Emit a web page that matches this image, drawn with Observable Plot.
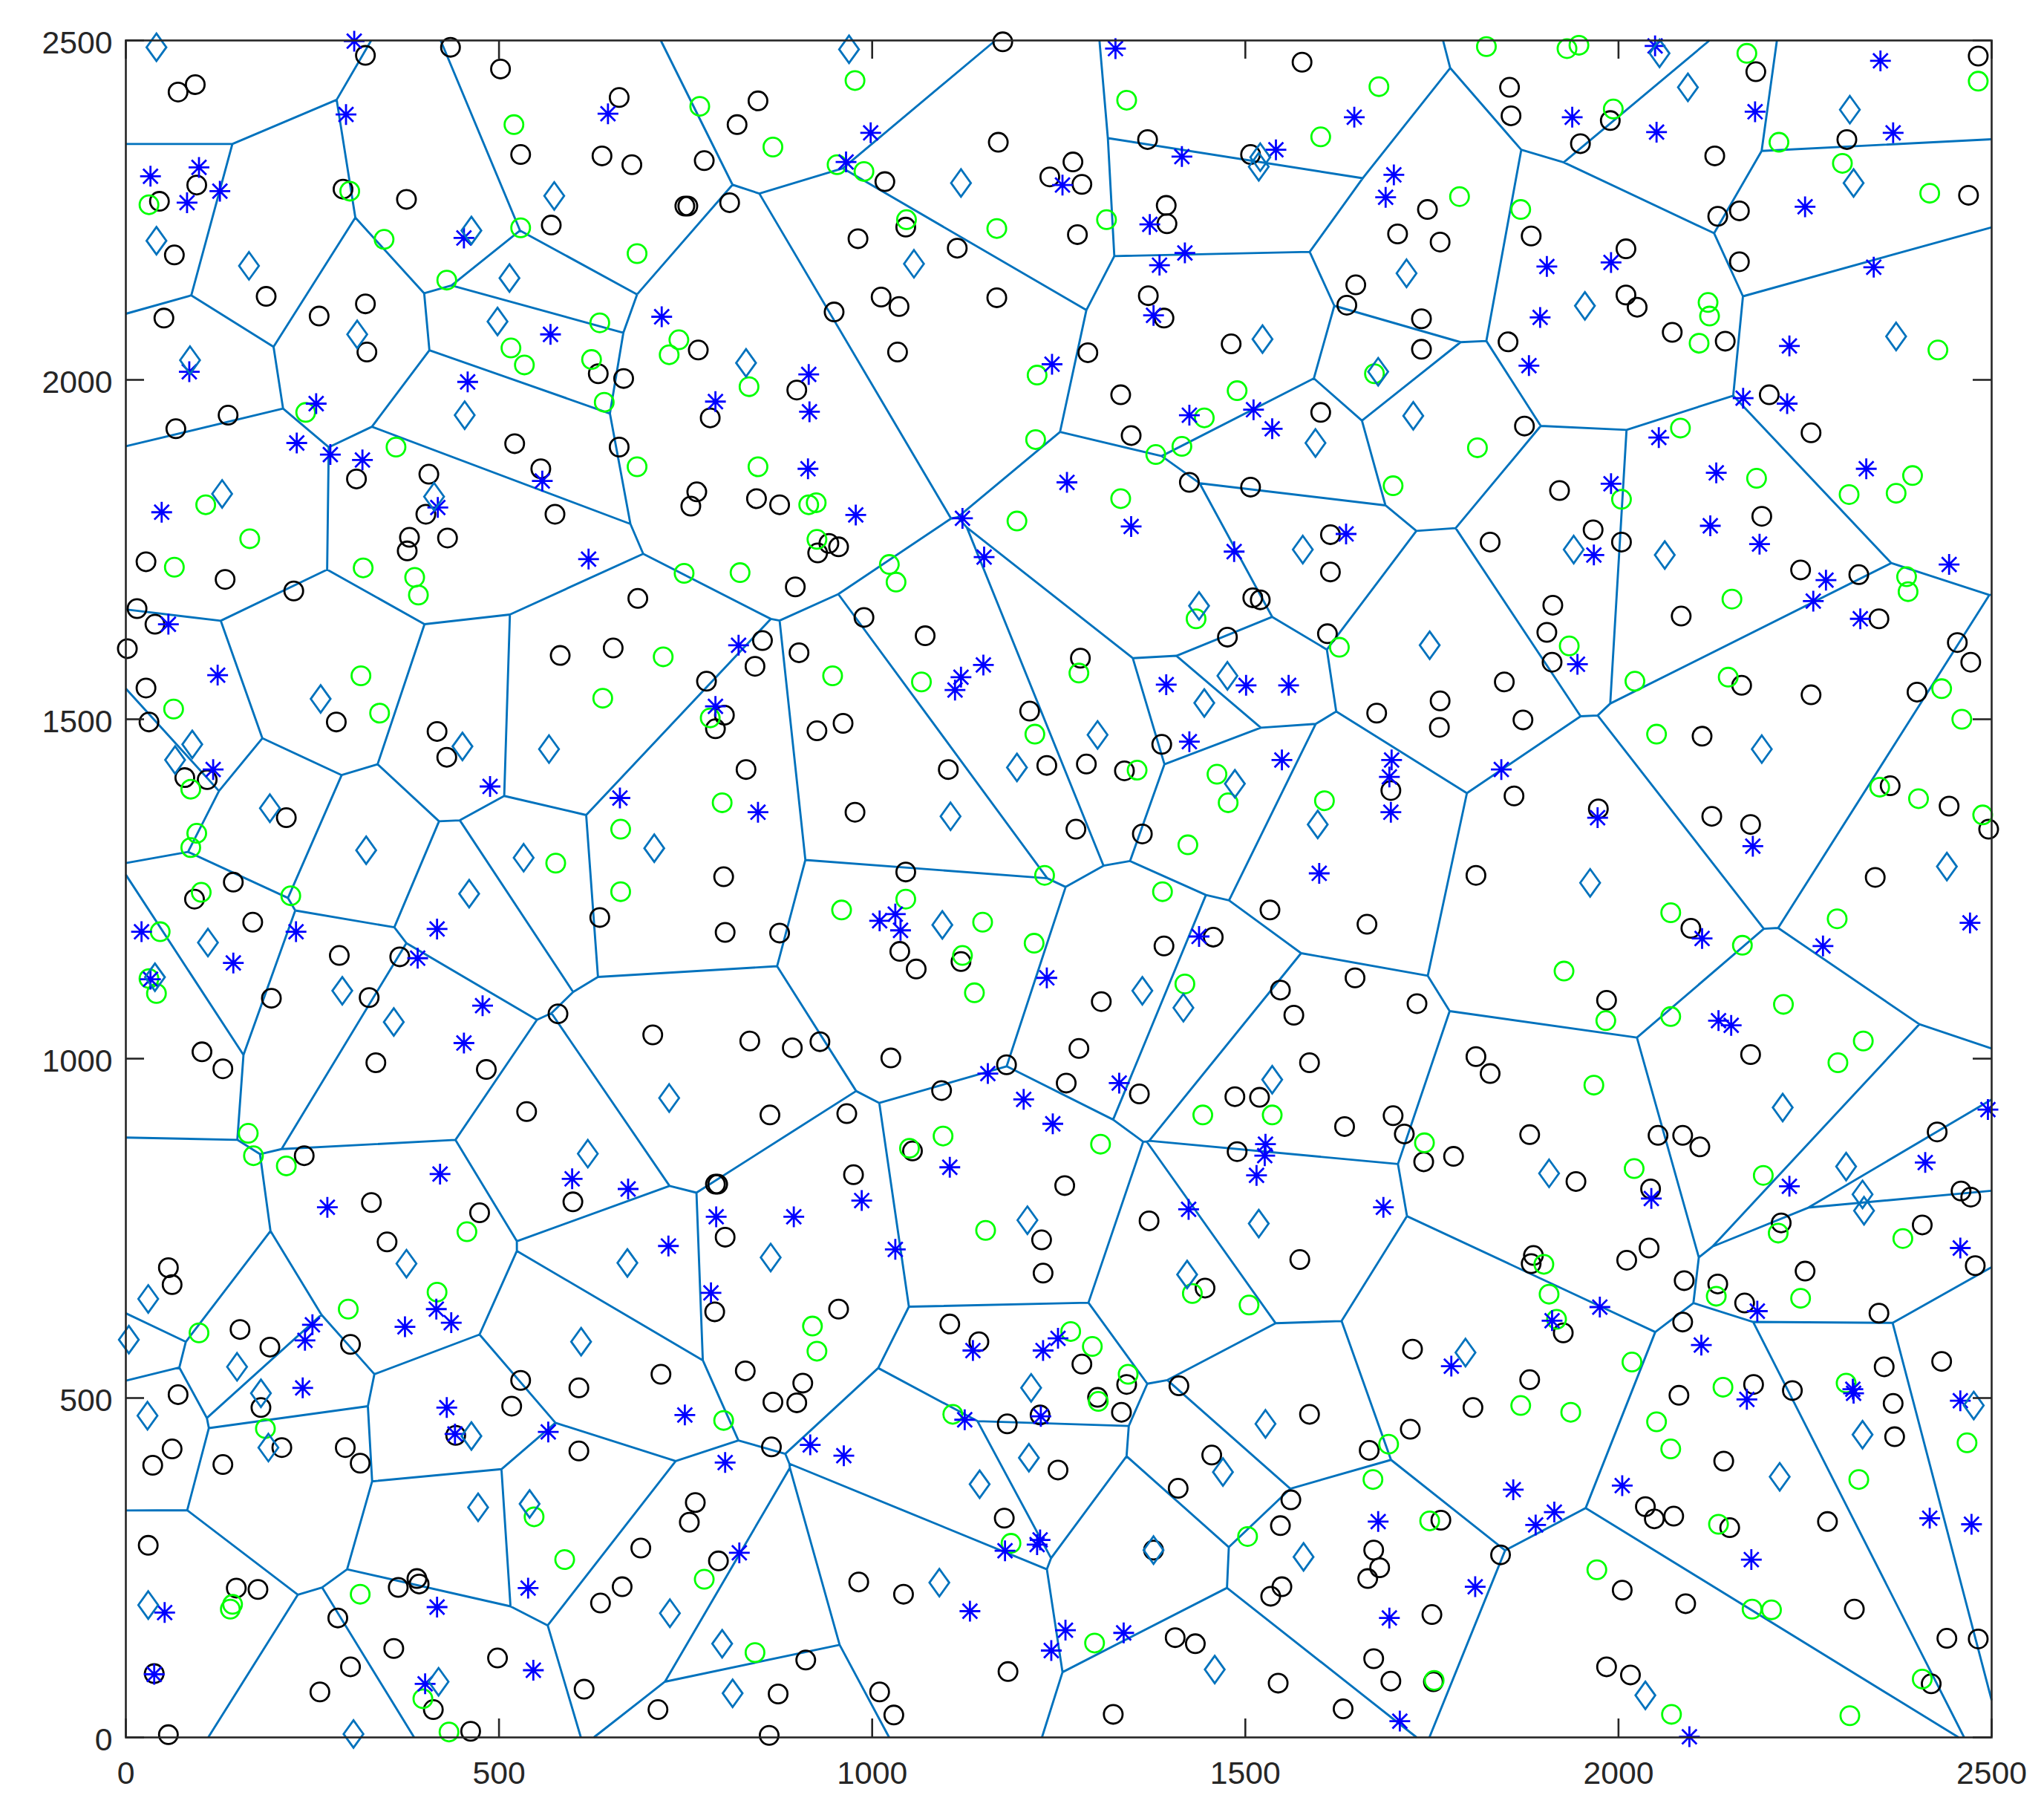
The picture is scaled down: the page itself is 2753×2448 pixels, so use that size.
<!DOCTYPE html>
<html><head><meta charset="utf-8">
<style>html,body{margin:0;padding:0;background:#fff}svg{display:block}</style>
<script src="https://cdn.jsdelivr.net/npm/d3@7"></script>
<script src="https://cdn.jsdelivr.net/npm/@observablehq/plot@0.6"></script>
</head><body><script>
const tickValues=[0,500,1000,1500,2000,2500];
const blackPoints=[[435,2490],[321,2478],[502,2458],[93,2435],[70,2424],[661,2416],[638,2330],[529,2332],[678,2317],[95,2287],[291,2281],[45,2263],[376,2266],[570,2228],[65,2184],[188,2123],[321,2112],[259,2094],[51,2091],[323,2041],[633,2009],[667,2002],[137,1948],[67,1928],[521,1906],[661,1901],[556,1869],[406,1861],[309,1854],[575,1802],[402,1802],[431,1767],[380,1768],[377,1748],[27,1732],[133,1706],[225,1689],[686,1678],
[1175,2498],[1576,2468],[847,2411],[819,2376],[1169,2350],[1369,2354],[1507,2332],[775,2323],[1269,2321],[1238,2299],[1281,2288],[1017,2292],[749,2256],[753,2256],[809,2261],[1394,2257],[1395,2230],[1045,2225],[981,2208],[1275,2214],[1114,2194],[1370,2124],[1391,2091],[1012,2122],[1036,2108],[1167,2121],[949,2100],[1034,2041],[1289,2040],[1481,2053],[767,2044],[899,1985],[1333,1978],[1601,1952],[783,1944],[1347,1918],[1425,1849],[1507,1842],[765,1835],[757,1814],[845,1825],[876,1816],[1614,1772],[942,1759],[955,1754],[927,1745],[1614,1717],[897,1695],[1510,1679],[1520,1676],
[2482,2477],[2184,2454],[1854,2431],[1856,2389],[1989,2382],[1949,2348],[2306,2354],[2129,2330],[1744,2251],[1704,2215],[1761,2203],[2133,2241],[2162,2249],[2469,2272],[1883,2212],[2010,2193],[2162,2174],[1648,2140],[1636,2110],[2010,2125],[2025,2107],[1736,2090],[2072,2070],[2143,2057],[1852,2056],[1736,2045],[2202,1978],[1874,1932],[2258,1922],[1921,1837],[1828,1761],[1966,1779],[2004,1761],[2192,1799],[2244,1720],[2322,1713],
[15,1663],[39,1640],[2,1604],[582,1594],[653,1605],[27,1546],[31,1496],[282,1496],[417,1482],[430,1444],[79,1414],[109,1411],[215,1355],[144,1260],[92,1235],[170,1201],[286,1152],[367,1150],[195,1089],[326,1090],[579,1066],[706,1035],[102,1010],[130,985],[335,994],[483,984],[537,922],[239,857],[635,1208],
[853,1616],[843,1578],[902,1598],[989,1650],[1071,1623],[778,1556],[802,1506],[790,1486],[1279,1590],[1211,1512],[926,1483],[961,1494],[831,1426],[1102,1426],[1234,1432],[1287,1434],[1338,1424],[1388,1463],[977,1363],[1273,1338],[1362,1331],[801,1268],[1045,1275],[803,1186],[876,1185],[1037,1158],[1059,1132],[1119,1143],[1533,1219],[1391,1166],[1457,1179],[1307,1084],[1547,1101],[1565,1064],[836,1026],[893,1016],[930,1025],[1025,1001],[1277,1015],[1180,991],[1586,994],[1358,948],[1260,964],[1486,944],[1519,943],[1093,953],[966,919],[863,917],[1489,863],[1054,864],[975,829],[793,815],[790,815],[1258,813],[1476,1621],[1610,1626],
[1912,1668],[2084,1652],[2349,1648],[1904,1628],[2454,1613],[2472,1584],[1911,1584],[2165,1550],[2258,1536],[2400,1540],[1847,1555],[1761,1527],[1872,1499],[1760,1488],[1676,1509],[2112,1475],[1695,1395],[1860,1387],[1973,1368],[2364,1402],[2443,1372],[2496,1338],[2125,1357],[2177,1345],[2344,1267],[1809,1270],[2097,1192],[1663,1198],[1647,1119],[1730,1081],[1984,1086],[2177,1006],[1809,1003],[1828,978],[1633,900],[1698,916],[1713,889],[1881,888],[2053,887],[2086,887],[2109,870],[1739,848],[1779,856],[1943,819],[2043,808],[2427,892],[2459,805],[2472,796],
[329,788],[474,773],[599,789],[350,730],[57,692],[62,667],[153,601],[193,575],[301,579],[717,535],[529,526],[607,515],[70,505],[517,488],[181,486],[442,445],[209,427],[294,427],[314,404],[607,422],[62,425],[36,401],[130,402],[30,283],[690,279],[665,222],[390,234],[393,226],[365,221],[148,220],[177,218],[636,198],[284,176],[359,131],[301,104],[498,117],[260,67],[614,71],[713,41],[412,41],[38,94],[57,4],[462,9],
[803,737],[955,631],[1104,609],[1143,583],[830,540],[907,522],[899,493],[867,494],[865,428],[789,627],[1281,550],[1341,520],[1302,501],[1334,479],[1225,475],[1181,462],[1249,394],[1177,323],[1411,518],[1586,476],[1455,416],[1410,367],[1561,350],[1547,312],[1377,276],[763,346],[755,317],[794,260],[982,229],[1042,211],[1406,147],[1433,138],[1549,222],[1534,208],[911,114],[1182,97],[1544,80],[874,64],[1010,67],[1029,33],[862,3],[1323,34],[1371,761],[1227,733],[1229,684],[1573,704],[1446,662],
[2407,755],[2218,758],[2041,721],[2011,703],[1886,710],[1883,698],[2088,673],[2133,668],[2169,640],[2250,687],[2478,695],[2349,625],[1926,596],[2086,612],[1724,572],[2433,554],[2356,546],[1881,527],[2181,520],[2081,504],[2233,511],[1805,486],[2368,492],[1721,454],[1666,423],[2370,443],[2141,407],[2036,340],[2048,322],[2074,326],[1762,320],[2149,309],[2280,318],[1842,269],[1672,276],[1680,250],[1664,234],[2005,217],[2090,197],[1750,181],[2316,189],[2440,146],[2482,145],[1672,116],[1695,83],[1752,82],[1984,104],[2016,92],[2419,79],[1631,42]];
const greenPoints=[[520,2376],[300,2278],[31,2258],[346,2207],[529,2224],[685,2186],[430,2147],[635,2084],[516,2047],[534,2022],[624,2030],[641,1967],[241,1952],[362,1901],[685,1872],[107,1816],[166,1766],[65,1724],[318,1723],[387,1709],[392,1683],
[977,2441],[1341,2412],[769,2403],[867,2343],[1601,2358],[953,2317],[989,2307],[1046,2236],[1314,2236],[1167,2223],[741,2059],[728,2037],[1221,2007],[835,1990],[1489,1984],[1445,1944],[1219,1912],[1415,1902],[1380,1890],[847,1872],[1333,1825],[915,1816],[925,1819],[1194,1792],[926,1765],[1023,1728],[748,1715],[823,1716],[1032,1702],
[1823,2491],[1931,2488],[1947,2493],[2172,2481],[1679,2432],[1993,2399],[2482,2440],[2215,2350],[2300,2319],[1787,2270],[1869,2251],[2417,2275],[2120,2114],[2122,2094],[2108,2054],[1673,2009],[2428,2044],[2083,1929],[1811,1900],[1698,1844],[2185,1855],[2004,1824],[2309,1831],[2372,1833],[2394,1859],[2386,1710],[2388,1688],[2152,1677],
[315,1564],[64,1515],[340,1509],[639,1531],[720,1592],[87,1397],[95,1332],[87,1311],[663,1338],[576,1288],[101,1245],[221,1240],[663,1246],[46,1187],[31,1118],[41,1096],[164,890],[171,857],[215,842],
[947,1564],[1066,1555],[1277,1568],[1218,1478],[783,1502],[1355,1425],[1462,1419],[1477,1377],[1423,1315],[799,1377],[1231,1270],[1389,1246],[1606,1380],[1045,1235],[959,1219],[1148,1201],[1121,1152],[1217,1170],[1137,1097],[1419,1110],[1443,917],[1536,917],[1306,874],[1095,886],[1050,868],[1434,1648],
[1934,1608],[1626,1606],[2147,1562],[2022,1556],[2433,1545],[2460,1500],[2051,1478],[2350,1400],[2402,1383],[2488,1359],[2070,1215],[2293,1206],[2166,1167],[1927,1129],[2221,1080],[2070,1062],[1983,1056],[2328,1026],[2294,994],[1967,961],[1740,876],[2021,838],[2194,828],
[457,745],[417,656],[298,631],[98,596],[187,455],[547,325],[588,262],[314,211],[143,196],[140,189],[398,57],[433,8],
[1152,747],[920,606],[926,569],[1505,637],[1429,654],[1266,598],[1295,576],[1343,535],[1303,495],[1108,476],[801,467],[1186,286],[1503,296],[775,233],[1298,139],[843,125],
[2214,743],[2381,735],[2131,650],[2244,647],[1900,697],[1907,653],[1917,616],[2018,553],[2140,516],[2305,522],[1869,489],[1936,479],[2051,465],[2070,425],[2467,434],[1692,432],[1671,380],[2322,380],[1747,319],[2134,314],[1971,247],[2179,189],[2205,188],[1753,84],[2407,86],[2071,34],[2310,32]];
const starPoints=[[306,2499],[295,2391],[646,2392],[98,2313],[33,2300],[126,2278],[82,2261],[453,2209],[718,2093],[569,2067],[85,2012],[458,1997],[255,1965],[229,1907],[274,1890],[317,1882],[558,1851],[418,1812],[48,1805],[620,1736],
[1326,2488],[998,2364],[965,2321],[1415,2329],[1541,2339],[1255,2287],[1372,2229],[1419,2187],[1385,2169],[1377,2095],[1241,2023],[915,2008],[790,1968],[916,1953],[1425,1948],[1511,1956],[1536,1928],[914,1869],[1261,1849],[1121,1796],[1347,1784],[978,1801],[1150,1739],[1485,1747],
[2049,2492],[2351,2470],[1646,2387],[1938,2387],[2183,2395],[2051,2365],[2368,2364],[1699,2302],[1688,2269],[2250,2255],[1904,2167],[1990,2173],[2342,2166],[1895,2092],[1880,2021],[2229,2050],[2167,1973],[2226,1965],[2054,1915],[1990,1847],[2131,1863],[2332,1869],[2123,1785],[1967,1742],[2189,1758],[2278,1705],[2443,1728],[1635,1773],[2261,1674],
[57,1640],[123,1565],[117,1426],[488,1401],[662,1384],[21,1187],[228,1187],[144,1141],[417,1191],[391,1148],[33,1117],[478,1078],[453,1023],[421,830],[598,823],[673,808],
[821,1609],[1149,1580],[1119,1562],[1111,1543],[790,1519],[1394,1551],[1501,1550],[1558,1550],[1425,1467],[1549,1440],[847,1363],[1599,1273],[1031,1213],[1010,1203],[1038,1189],[1438,1180],[1234,1119],[1155,978],[1331,964],[1203,940],[1242,904],[1527,874],[1526,857],[1515,828],[1104,840],
[1945,1581],[1696,1440],[1693,1415],[1695,1363],[1843,1426],[1972,1355],[2180,1313],[2471,1200],[2112,1177],[2274,1166],[2134,1056],[2151,1049],[2495,925],[2411,847],[2229,812],[2324,1648],
[270,781],[416,631],[436,611],[374,605],[250,608],[240,585],[237,515],[430,486],[441,447],[566,450],[539,220],[417,192],[52,184],[401,79],[38,93],[546,99],[727,724],
[791,767],[895,767],[986,791],[1031,719],[1424,778],[784,655],[1249,588],[1229,570],[1135,570],[1226,473],[1124,468],[749,475],[917,431],[962,415],[803,405],[822,272],[1178,275],[1221,284],[1225,291],[1131,186],[1259,158],[1337,154],[1240,128],
[1685,781],[2044,794],[2458,721],[2186,628],[1911,614],[1975,634],[2111,578],[1776,547],[2172,498],[2314,513],[2315,507],[2458,496],[2005,371],[1859,365],[1678,318],[1914,332],[1889,313],[1808,222],[2178,262],[1693,176],[2417,323],[2473,314],[1707,24],[2095,1]];
const diamondPoints=[[41,2490],[574,2271],[463,2220],[41,2205],[165,2168],[514,2150],[498,2086],[310,2067],[86,2029],[454,1948],[129,1832],[413,1828],
[969,2487],[1119,2290],[1520,2328],[1518,2314],[1056,2171],[1523,2060],[831,2025],[1594,1907],[1577,1750],
[2055,2481],[2093,2431],[2310,2398],[2315,2290],[1716,2157],[1955,2109],[2372,2064],[1678,2012],[1725,1947],[1940,1750],[2062,1742],
[261,1530],[89,1463],[66,1440],[451,1460],[567,1456],[193,1369],[322,1307],[533,1296],[708,1310],[460,1243],[110,1171],[39,1120],[290,1100],[359,1054],[619,860],[728,942],
[1438,1667],[1476,1564],[1445,1524],[1302,1477],[1194,1429],[1486,1405],[1105,1357],[1597,1345],[1094,1197],[1362,1100],[1417,1075],[1536,969],
[1747,1609],[2192,1456],[1962,1259],[2440,1283],[2220,928],[1907,831],[2305,841],[2327,800],[2329,776],
[376,698],[672,699],[30,646],[4,586],[610,583],[149,546],[181,507],[29,474],[463,444],[191,427],[472,339],[541,344],[30,195],[729,183],[419,82],[305,5],
[1208,762],[1518,757],[864,707],[1422,682],[1213,515],[1210,412],[1527,462],[1144,373],[1470,391],[1377,276],[1578,266],[1090,228],[799,138],[1459,100],[813,65],
[1795,567],[2476,489],[2327,446],[2216,384],[2036,62]];

const starSymbol={draw(c,size){const k=Math.sqrt(size/Math.PI);const d=k*Math.SQRT1_2;
 c.moveTo(-k,0);c.lineTo(k,0);c.moveTo(0,-k);c.lineTo(0,k);c.moveTo(-d,-d);c.lineTo(d,d);c.moveTo(-d,d);c.lineTo(d,-d);}};
const diamondSymbol={draw(c,size){const k=Math.sqrt(size/Math.PI);const w=k*0.72;
 c.moveTo(0,-k);c.lineTo(w,0);c.lineTo(0,k);c.lineTo(-w,0);c.closePath();}};

const ink="#262626", edge="#0072BD";
const W=2753,H=2448,mL=169,mR=71,mT=54,mB=109,tickLen=25,plotW=W-mL-mR,plotH=H-mT-mB;
const X=d=>d[0],Y=d=>d[1];
const chart=Plot.plot({
 width:W,height:H,marginLeft:mL,marginRight:mR,marginTop:mT,marginBottom:mB,
 style:{background:"#fff",fontFamily:"'Liberation Sans',sans-serif"},
 x:{domain:[0,2500]},y:{domain:[0,2500]},
 marks:[
  Plot.voronoiMesh(diamondPoints,{x:X,y:Y,stroke:edge,strokeWidth:2.9,strokeOpacity:1}),
  Plot.dot(blackPoints,{x:X,y:Y,r:12.6,stroke:"#000",strokeWidth:2.8,fill:"none"}),
  Plot.dot(greenPoints,{x:X,y:Y,r:12.6,stroke:"#00FF00",strokeWidth:2.8,fill:"none"}),
  Plot.dot(starPoints,{x:X,y:Y,r:14,symbol:starSymbol,stroke:"#0000FF",strokeWidth:2.8,fill:"none"}),
  Plot.dot(diamondPoints,{x:X,y:Y,r:18.5,symbol:diamondSymbol,stroke:edge,strokeWidth:2.8,fill:"none"}),
  Plot.tickX(tickValues,{x:d=>d,stroke:ink,strokeWidth:2.6,insetTop:plotH-tickLen}),
  Plot.tickX(tickValues,{x:d=>d,stroke:ink,strokeWidth:2.6,insetBottom:plotH-tickLen}),
  Plot.tickY(tickValues,{y:d=>d,stroke:ink,strokeWidth:2.6,insetRight:plotW-tickLen}),
  Plot.tickY(tickValues,{y:d=>d,stroke:ink,strokeWidth:2.6,insetLeft:plotW-tickLen}),
  Plot.frame({stroke:ink,strokeWidth:2.6}),
  Plot.axisX(tickValues,{tickSize:0,tickPadding:32,fontSize:42.7,color:ink,label:null,tickFormat:d=>String(d)}),
  Plot.axisY(tickValues,{tickSize:0,tickPadding:18,dy:3.5,fontSize:42.7,color:ink,label:null,tickFormat:d=>String(d)})
 ]
});
document.body.appendChild(chart);
</script></body></html>
